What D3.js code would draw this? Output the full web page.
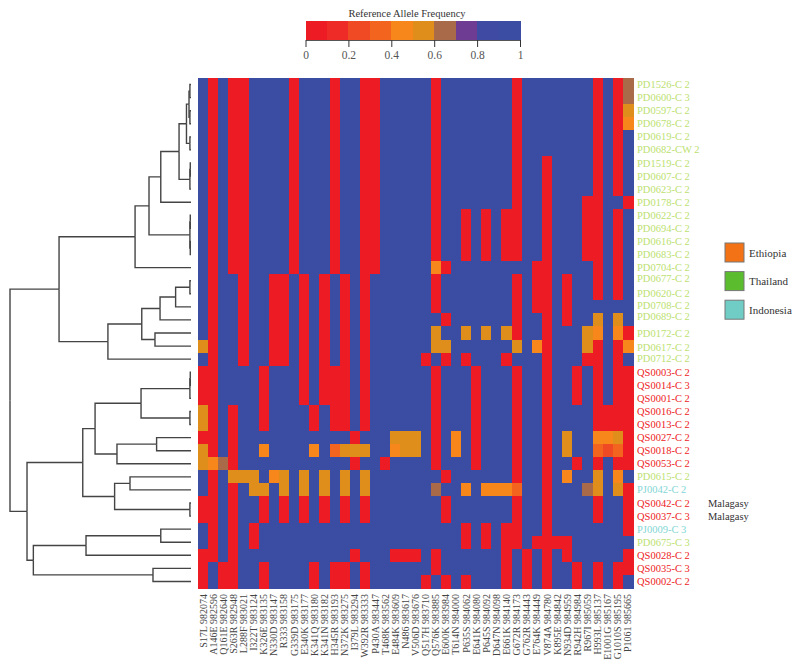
<!DOCTYPE html>
<html>
<head>
<meta charset="utf-8">
<script src="https://cdn.jsdelivr.net/npm/d3@7"></script>
<style>
  body { margin: 0; background: #fff; }
  text { font-family: "Liberation Serif", serif; }
</style>
</head>
<body>
<svg id="chart" width="800" height="667"></svg>
<script>
const variants = [
  'S17L 982074', 'A146E 982596', 'Q161E 982640', 'S263R 982948', 'L288F 983021', 'I322T 983124',
  'K326E 983135', 'N330D 983147', 'R333 983158', 'G339D 983175', 'E340K 983177', 'K341Q 983180',
  'K341N 983182', 'H345R 983193', 'N372K 983275', 'I379L 983294', 'W392R 983333', 'P430A 983447',
  'T468K 983562', 'E484K 983609', 'N486 983617', 'V506D 983676', 'Q517H 983710', 'Q576K 983885',
  'E600K 983984', 'T614N 984000', 'P635S 984062', 'E641K 984080', 'P645S 984092', 'D647N 984098',
  'E661K 984140', 'G672R 984173', 'G762R 984443', 'E764K 984449', 'V874A 984780', 'K895E 984842',
  'N934D 984959', 'R942H 984984', 'R967I 985059', 'H993L 985137', 'E1001G 985167', 'G1010S 985195',
  'P1061 985665',
];

const samples = [
  'PD1526-C 2', 'PD0600-C 3', 'PD0597-C 2', 'PD0678-C 2', 'PD0619-C 2', 'PD0682-CW 2', 'PD1519-C 2',
  'PD0607-C 2', 'PD0623-C 2', 'PD0178-C 2', 'PD0622-C 2', 'PD0694-C 2', 'PD0616-C 2', 'PD0683-C 2',
  'PD0704-C 2', 'PD0677-C 2', 'PD0620-C 2', 'PD0708-C 2', 'PD0689-C 2', 'PD0172-C 2', 'PD0617-C 2',
  'PD0712-C 2', 'QS0003-C 2', 'QS0014-C 3', 'QS0001-C 2', 'QS0016-C 2', 'QS0013-C 2', 'QS0027-C 2',
  'QS0018-C 2', 'QS0053-C 2', 'PD0615-C 2', 'PJ0042-C 2', 'QS0042-C 2', 'QS0037-C 3', 'PJ0009-C 3',
  'PD0675-C 3', 'QS0028-C 2', 'QS0035-C 3', 'QS0002-C 2',
];

// column indexes per sample where the reference allele is near 0 (red)
const lowCols = [
  [1, 3, 4, 9, 13, 16, 17, 23, 31, 39, 41],
  [1, 3, 4, 9, 13, 16, 17, 23, 31, 39, 41],
  [1, 3, 4, 9, 13, 16, 17, 23, 31, 39, 41],
  [1, 3, 4, 9, 13, 16, 17, 23, 31, 39, 41],
  [1, 3, 4, 9, 13, 16, 17, 23, 31, 39, 41],
  [1, 3, 4, 9, 13, 16, 17, 23, 31, 39, 41],
  [1, 3, 4, 9, 13, 16, 17, 23, 31, 34, 39, 41],
  [1, 3, 4, 9, 13, 16, 17, 23, 31, 34, 39, 41],
  [1, 3, 4, 9, 13, 16, 17, 23, 31, 34, 39, 41],
  [1, 3, 4, 9, 13, 16, 17, 23, 31, 34, 38, 39, 42],
  [1, 3, 4, 9, 13, 16, 17, 23, 26, 28, 30, 31, 34, 38, 39, 41],
  [1, 3, 4, 9, 13, 16, 17, 23, 26, 28, 30, 31, 34, 38, 39, 41],
  [1, 3, 4, 9, 13, 16, 17, 23, 26, 28, 30, 31, 34, 38, 39, 41],
  [1, 3, 4, 9, 13, 16, 17, 23, 26, 28, 30, 31, 34, 38, 39, 41],
  [1, 3, 4, 9, 13, 16, 17, 24, 33, 34, 39, 41],
  [1, 4, 7, 8, 10, 12, 14, 16, 23, 31, 33, 34, 36, 39, 41],
  [1, 4, 7, 8, 10, 12, 14, 16, 23, 31, 33, 34, 36, 39, 41],
  [1, 4, 7, 8, 10, 12, 14, 16, 23, 31, 33, 34, 36],
  [1, 4, 7, 8, 10, 12, 14, 16, 24, 31, 34, 36],
  [1, 4, 7, 8, 10, 12, 14, 16, 31, 34, 42],
  [1, 4, 7, 8, 10, 12, 14, 16, 34, 39, 41],
  [1, 4, 7, 8, 10, 12, 14, 16, 22, 24, 26, 30, 34, 38, 39, 41],
  [0, 1, 6, 10, 12, 13, 14, 16, 23, 27, 31, 34, 37, 39, 41, 42],
  [0, 1, 6, 10, 12, 13, 14, 16, 23, 27, 31, 34, 37, 39, 41, 42],
  [0, 1, 6, 10, 12, 13, 14, 16, 23, 27, 31, 34, 37, 39, 41, 42],
  [1, 3, 6, 11, 13, 14, 16, 23, 27, 31, 34, 39, 40, 41, 42],
  [1, 3, 6, 11, 13, 14, 16, 23, 27, 31, 34, 39, 40, 41, 42],
  [0, 1, 3, 15, 23, 27, 31, 34, 42],
  [1, 3, 23, 27, 31, 34, 42],
  [3, 15, 18, 23, 27, 31, 34, 37, 39, 41, 42],
  [1, 24, 31, 34],
  [1, 3, 34, 42],
  [0, 1, 3, 6, 8, 10, 12, 14, 16, 24, 31, 34, 39, 42],
  [0, 1, 3, 6, 8, 10, 12, 14, 16, 24, 31, 34, 39, 42],
  [1, 3, 5, 26, 28, 30, 31, 34, 42],
  [1, 3, 5, 26, 28, 30, 31, 33, 34, 35, 36],
  [0, 1, 3, 15, 19, 20, 21, 23, 30, 32, 34, 36, 42],
  [0, 2, 3, 6, 11, 13, 14, 16, 23, 30, 32, 34, 37, 39, 41, 42],
  [0, 2, 3, 6, 11, 13, 14, 16, 22, 24, 26, 30, 32, 34, 37, 39, 41],
];

// intermediate frequencies, column index -> value, per sample
const midCols = [
  { 42: 0.65 }, { 42: 0.65 }, { 42: 0.55 }, { 42: 0.45 }, {}, {}, {}, {}, {}, {}, {}, {}, {}, {},
  { 23: 0.45 }, {}, {}, {},
  { 39: 0.55, 41: 0.55 },
  { 23: 0.55, 26: 0.55, 28: 0.55, 30: 0.55, 38: 0.55, 39: 0.45, 41: 0.45 },
  { 0: 0.55, 23: 0.55, 24: 0.55, 31: 0.55, 33: 0.45, 38: 0.55, 42: 0.45 },
  {}, {}, {}, {},
  { 0: 0.55 }, { 0: 0.55 },
  { 19: 0.55, 20: 0.55, 21: 0.55, 25: 0.45, 36: 0.55, 39: 0.45, 40: 0.45, 41: 0.55 },
  { 0: 0.55, 6: 0.45, 11: 0.45, 13: 0.35, 14: 0.55, 15: 0.55, 16: 0.55, 19: 0.45, 20: 0.55, 21: 0.55,
    25: 0.45, 36: 0.55, 39: 0.35, 40: 0.25, 41: 0.35 },
  { 0: 0.55, 1: 0.45, 2: 0.65 },
  { 3: 0.55, 4: 0.55, 5: 0.55, 7: 0.45, 8: 0.55, 10: 0.55, 12: 0.55, 14: 0.55, 16: 0.55, 36: 0.45,
    39: 0.55, 41: 0.45 },
  { 5: 0.55, 6: 0.55, 8: 0.55, 10: 0.55, 12: 0.55, 14: 0.55, 16: 0.55, 23: 0.65, 26: 0.45, 28: 0.45,
    29: 0.45, 30: 0.45, 31: 0.35, 38: 0.65, 39: 0.55, 41: 0.55 },
  {}, {}, {}, {}, {}, {}, {},
];

// clustering as [height, child, child], leaves are sample indexes
const clusterTree = [1,
  [0.729,
    [0.309,
      [0.232,
        [0.167,
          [0.066,
            [0.025,
              [0.011, [0.006, 0, 1], [0.006, 2, 3]],
              [0.006, 4, 5]],
            [0.006, [0.004, 6, 7], 8]],
          9],
        [0.006, [0.004, 10, 11], [0.004, 12, 13]]],
      14],
    [0.459,
      [0.272,
        [0.171, [0.085, [0.006, 15, 16], 17], 18],
        [0.199, 19, 20]],
      21]],
  [0.906,
    [0.598,
      [0.53,
        [0.276, [0.006, [0.004, 22, 23], 24], [0.006, 25, 26]],
        [0.409, [0.19, 27, 28], 29]],
      [0.422, [0.337, 30, 31], [0.006, 32, 33]]],
    [0.871,
      [0.58, [0.167, 34, 35], 36],
      [0.21, 37, 38]]]];

const freqBinColors = ['#ed1c24', '#ee2b26', '#f04a25', '#f3651f', '#f7871a',
  '#df8e1c', '#a96a4a', '#6e3c92', '#3f4aa3', '#3b4da3'];
const freqTicks = [0, 0.2, 0.4, 0.6, 0.8, 1];

const sampleColors = { PD: '#bcdf70', QS: '#ed1c24', PJ: '#83d6d6' };
const countries = ['Ethiopia', 'Thailand', 'Indonesia'];
const countryColors = ['#f47216', '#5bbd2e', '#6fcdc5'];
const notes = { 'QS0042-C 2': 'Malagasy', 'QS0037-C 3': 'Malagasy' };

// hand nudges for sample labels that sit off their row in the figure
const labelShift = { 15: -2, 17: -1, 18: -3, 20: 1, 21: -1 };

const svg = d3.select('#chart');

const x = d3.scaleBand().domain(d3.range(variants.length)).range([198, 633]);
const y = d3.scaleBand().domain(d3.range(samples.length)).range([78, 588]);
const freqColor = d3.scaleQuantize().domain([0, 1]).range(freqBinColors);

const matrix = samples.map((s, r) => variants.map((v, c) => {
  if (midCols[r][c] !== undefined) return midCols[r][c];
  return lowCols[r].includes(c) ? 0.05 : 0.95;
}));

// Heatmap
svg.append('g').attr('shape-rendering', 'crispEdges')
  .selectAll('g').data(matrix).join('g')
  .attr('transform', (d, r) => `translate(0, ${y(r)})`)
  .selectAll('rect').data(d => d).join('rect')
  .attr('x', (d, c) => x(c))
  .attr('width', x.bandwidth() + 0.5)
  .attr('height', y.bandwidth() + 0.5)
  .style('fill', d => freqColor(d));

// Variant labels
svg.append('g').selectAll('text').data(variants).join('text')
  .attr('transform', (d, c) => `translate(${x(c) + x.bandwidth() / 2 + 3.5}, 594) rotate(-90)`)
  .attr('text-anchor', 'end')
  .style('font-size', '10px')
  .style('fill', '#444')
  .text(d => d);

// Sample labels
svg.append('g').selectAll('text').data(samples).join('text')
  .attr('x', 637)
  .attr('y', (d, r) => y(r) + y.bandwidth() / 2 + 3.5 + (labelShift[r] || 0))
  .style('font-size', '10.5px')
  .style('fill', d => sampleColors[d.slice(0, 2)])
  .text(d => d);

svg.append('g').selectAll('text').data(samples.filter(d => notes[d])).join('text')
  .attr('x', 708)
  .attr('y', d => y(samples.indexOf(d)) + y.bandwidth() / 2 + 3.5)
  .style('font-size', '10.5px')
  .style('fill', '#333')
  .text(d => notes[d]);

// Dendrogram
const dendroX = d3.scaleLinear().domain([0, 1]).range([191, 10]);
const root = d3.hierarchy(clusterTree, d => (Array.isArray(d) ? d.slice(1) : null));
root.eachAfter((n) => {
  if (n.children) {
    n.py = d3.mean(n.children, k => k.py);
    n.px = dendroX(n.data[0]);
  } else {
    n.py = y(n.data) + y.bandwidth() / 2;
    n.px = dendroX(0);
  }
});
svg.append('g').selectAll('path').data(root.links()).join('path')
  .attr('d', l => `M${l.source.px},${l.source.py}V${l.target.py}H${l.target.px}`)
  .style('fill', 'none')
  .style('stroke', '#444')
  .style('stroke-width', 1.4);

// Colour key
const keyX = d3.scaleLinear().domain([0, 1]).range([305.5, 520]);
svg.append('g').attr('shape-rendering', 'crispEdges')
  .selectAll('rect').data(freqBinColors).join('rect')
  .attr('x', (d, i) => keyX(i / freqBinColors.length))
  .attr('y', 21)
  .attr('width', keyX(0.1) - keyX(0) + 0.5)
  .attr('height', 19)
  .style('fill', d => d);

const keyAxis = svg.append('g').attr('transform', 'translate(0, 40)')
  .call(d3.axisBottom(keyX).tickValues(freqTicks).tickFormat(d3.format('~g')).tickSize(7).tickSizeOuter(0));
keyAxis.select('.domain').style('stroke', '#555');
keyAxis.selectAll('line').style('stroke', '#333');
keyAxis.selectAll('text')
  .attr('dy', 0).attr('y', 19)
  .style('font-family', '"Liberation Serif", serif')
  .style('font-size', '11.5px')
  .style('fill', '#555');

svg.append('text')
  .attr('x', 407).attr('y', 16.5)
  .attr('text-anchor', 'middle')
  .style('font-size', '10.5px')
  .style('fill', '#333')
  .text('Reference Allele Frequency');

// Country legend
const legend = svg.append('g').selectAll('g').data(countries).join('g')
  .attr('transform', (d, i) => `translate(725, ${243 + i * 28.6})`);
legend.append('rect')
  .attr('width', 19).attr('height', 19)
  .style('fill', (d, i) => countryColors[i])
  .style('stroke', '#777')
  .style('stroke-width', 1);
legend.append('text')
  .attr('x', 24).attr('y', 13.5)
  .style('font-size', '11px')
  .style('fill', '#333')
  .text(d => d);
</script>
</body>
</html>
